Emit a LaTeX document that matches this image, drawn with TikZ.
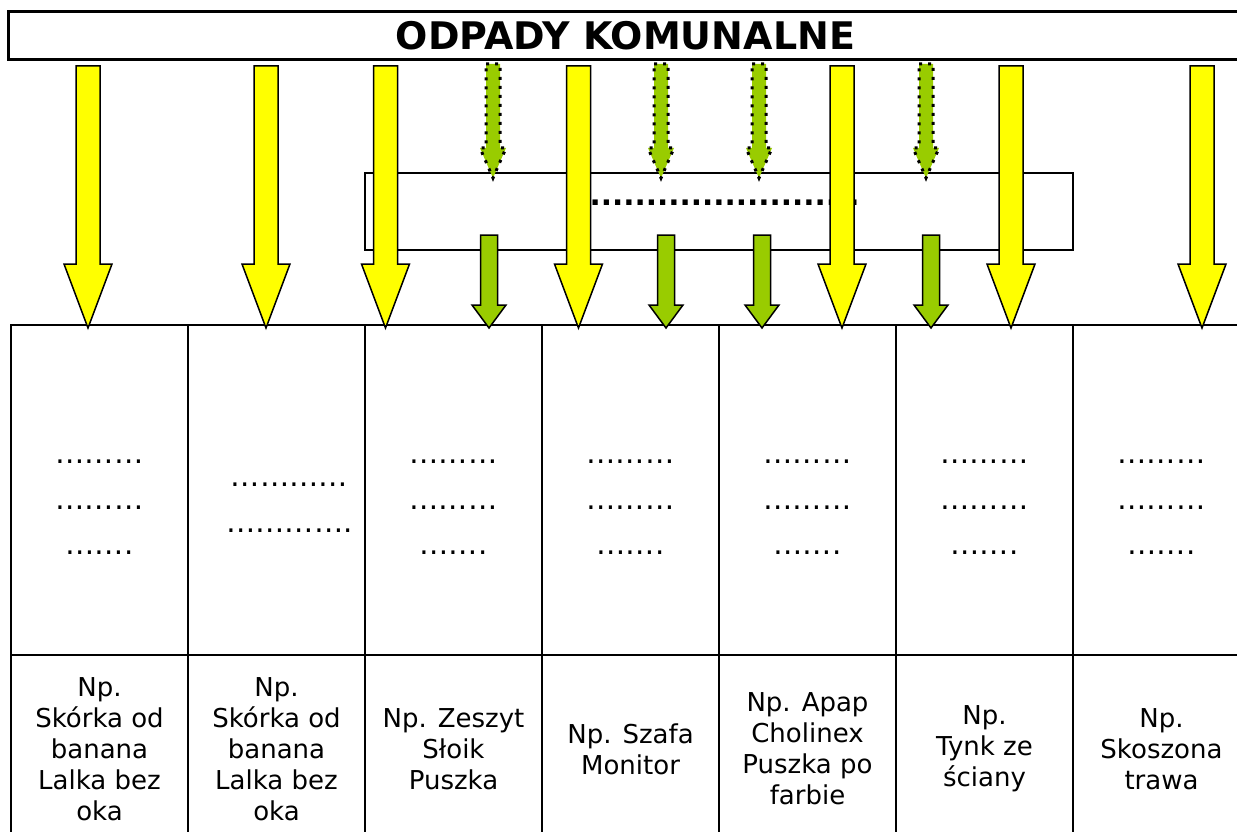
\documentclass[tikz,border=0pt]{standalone}
\usepackage{fontspec}
\setmainfont{DejaVu Sans}
\usepackage{tikz}
\definecolor{yellowArrow}{RGB}{255,255,0}
\definecolor{greenArrow}{RGB}{153,204,0}

\tikzset{
  pics/downarrow/.style n args={4}{code={
    \path[pic actions] (-#1,0) -- (#1,0) -- (#1,#3-#4) -- (#2,#3-#4)
      -- (0,#3) -- (-#2,#3-#4) -- (-#1,#3-#4) -- cycle;
  }},
}

\begin{document}
\begin{tikzpicture}[
  x=1pt, y=-1pt,
  every node/.style={inner sep=0pt},
  title/.style={
    draw, line width=3pt,
    minimum width=1235pt, minimum height=48pt,
    font=\fontsize{38}{45}\selectfont\bfseries
  },
  cell/.style={
    draw, line width=2.2pt,
    minimum width=177pt, minimum height=330pt
  },
  excell/.style={
    draw, line width=2.2pt, align=center,
    minimum width=177pt, minimum height=188pt,
    font=\fontsize{26}{31}\selectfont
  },
  dots/.style={
    align=center,
    font=\fontsize{29.3}{45.5}\selectfont
  },
  yellowarrow/.style={
    fill=yellowArrow, draw=black, line width=1.5pt
  },
  greenarrow/.style={
    fill=greenArrow, draw=black, line width=1.5pt
  },
  dottedarrow/.style={
    fill=greenArrow, draw=black, line width=3pt,
    dash pattern=on 3pt off 6pt
  }
]
\useasboundingbox (0,0) rectangle (1237,832);
\clip (0,0) rectangle (1237,832);
\fill[white] (0,0) rectangle (1237,832);

\node[title] (title) at (625.5,36) {ODPADY KOMUNALNE};

% table
\foreach[evaluate=\i as \cx using 99.5+177*(\i-1)] \i/\dx/\txt in {
    1/0/{………\\………\\…….},
    2/13/{…………\\………….},
    3/0/{………\\………\\…….},
    4/0/{………\\………\\…….},
    5/0/{………\\………\\…….},
    6/0/{………\\………\\…….},
    7/0/{………\\………\\…….}} {
  \node[cell] (cell\i) at (\cx,490) {};
  \node[dots] (dots\i) at ([xshift=\dx pt,yshift=-17.5pt]cell\i.center) {\txt};
}
\foreach[evaluate=\i as \cx using 99.5+177*(\i-1)] \i/\ex in {
    1/{Np.\\Skórka od\\banana\\Lalka bez\\oka},
    2/{Np.\\Skórka od\\banana\\Lalka bez\\oka},
    3/{Np. Zeszyt\\Słoik\\Puszka},
    4/{Np. Szafa\\Monitor},
    5/{Np. Apap\\Cholinex\\Puszka po\\farbie},
    6/{Np.\\Tynk ze\\ściany},
    7/{Np.\\Skoszona\\trawa}} {
  \node[excell] (ex\i) at (\cx,749) {\ex};
}

% middle box
\node[draw, line width=2pt, minimum width=708pt, minimum height=77pt]
  (sortbox) at (719,211.5) {};
\node[font=\fontsize{29.6}{30}\selectfont\bfseries]
  (sortdots) at (719,203) {.........................};

% arrows
\foreach \x [count=\k] in {493,661,759,926}
  \pic[dottedarrow, name=da\k] at (\x,64) {downarrow={7}{13}{114}{30}};
\foreach \x [count=\k] in {88,266,385.5,578.5,842,1011,1202}
  \pic[yellowarrow, name=ya\k] at (\x,66) {downarrow={12}{24}{262}{64}};
\foreach \x [count=\k] in {489,666,762,931}
  \pic[greenarrow, name=ga\k] at (\x,235) {downarrow={8.5}{17}{93}{23}};
\end{tikzpicture}
\end{document}
